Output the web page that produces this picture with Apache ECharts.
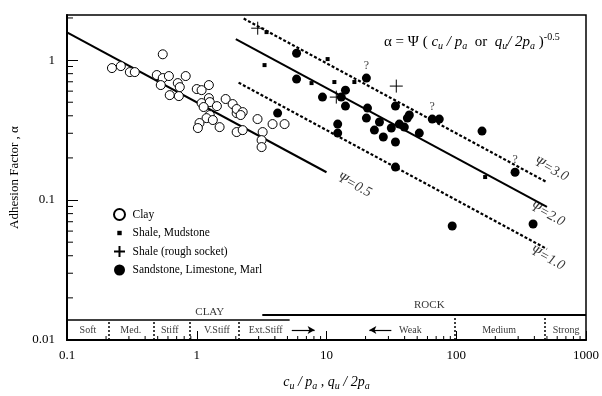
<!DOCTYPE html>
<html>
<head>
<meta charset="utf-8">
<script src="https://cdn.jsdelivr.net/npm/echarts@6/dist/echarts.min.js"></script>
<style>
html,body{margin:0;padding:0;background:#fff}
#main{width:602px;height:396px}
</style>
</head>
<body>
<div id="main"></div>
<script>
// [cu/pa, alpha]
var clay = [[0.222,0.877],[0.26,0.906],[0.305,0.821],[0.333,0.821],[0.547,1.10],[0.492,0.782],[0.547,0.744],
  [0.61,0.769],[0.528,0.663],[0.714,0.685],[0.74,0.641],[0.822,0.769],[0.619,0.562],[0.728,0.553],[1.0,0.621],
  [1.09,0.61],[1.24,0.663],[1.24,0.535],[1.09,0.493],[1.26,0.501],[1.43,0.469],[1.67,0.527],[1.89,0.485],
  [1.13,0.462],[1.26,0.405],[1.19,0.385],[1.05,0.355],[1.02,0.327],[1.33,0.373],[1.5,0.332],[2.03,0.418],
  [2.03,0.447],[2.26,0.425],[2.18,0.405],[2.03,0.306],[2.26,0.316],[2.94,0.379],[3.22,0.306],[3.16,0.268],
  [3.16,0.239],[3.84,0.349],[4.75,0.349]]
var shale = [[3.45,1.585],[3.33,0.921],[10.2,1.017],[7.67,0.685],[11.5,0.697],[16.4,0.697],[167,0.146]]
var roughSocket = [[2.95,1.69],[34.5,0.652],[11.9,0.544]]
var sandstone = [[5.88,1.12],[5.88,0.732],[4.20,0.418],[9.31,0.544],[14.0,0.610],[13.0,0.544],[14.0,0.469],
  [20.3,0.744],[20.7,0.454],[20.3,0.385],[25.6,0.361],[23.4,0.316],[27.4,0.282],[34.0,0.260],[34.0,0.469],
  [31.6,0.327],[36.4,0.349],[39.8,0.332],[42.0,0.385],[43.5,0.405],[51.9,0.301],[65.3,0.379],[74.0,0.379],
  [12.2,0.349],[12.2,0.301],[34.0,0.172],[158,0.311],[284,0.158],[93.1,0.0652],[391,0.0674]]
var queried = [[20.3,0.744],[65.3,0.379],[284,0.158]]

var psi05 = [[0.1,1.58],[10,0.158]]
var psi20 = [[2,1.414],[500,0.0894]]
var psi30 = [[2.3,1.98],[500,0.134]]
var psi10 = [[2.1,0.69],[500,0.0447]]
var psiLabels = [['Ψ=0.5',16.4,0.128],['Ψ=3.0',540,0.166],['Ψ=2.0',505,0.0794],['Ψ=1.0',505,0.0385]]

var clayBounds = [0.21,0.47,0.88,2.1]
var rockBounds = [97,480]
var stripLabels = [['Soft',0.145],['Med.',0.31],['Stiff',0.62],['V.Stiff',1.43],['Ext.Stiff',3.4],
  ['Weak',44.3],['Medium',214],['Strong',702]]

var xMinor = [0.2,0.3,0.4,0.5,0.6,0.7,0.8,0.9,2,3,4,5,6,7,8,9,20,30,40,50,60,70,80,90,200,300,400,500,600,700,800,900]
var yMinor = [0.02,0.03,0.04,0.05,0.06,0.07,0.08,0.09,0.2,0.3,0.4,0.5,0.6,0.7,0.8,0.9,2]

var serif = 'Liberation Serif'
var chart = echarts.init(document.getElementById('main'))

var stripTop = 0.0139, rockTop = 0.0151

function tickSeries(vals, onX){
  return {
    type:'custom', silent:true, z:5,
    data: vals.map(function(v){return [v]}),
    renderItem:function(params, api){
      var v = api.value(0)
      var p = onX ? api.coord([v,0.01]) : api.coord([0.1,v])
      return {type:'line', shape: onX ? {x1:p[0],y1:p[1],x2:p[0],y2:p[1]-4} : {x1:p[0],y1:p[1],x2:p[0]+6,y2:p[1]},
        style:{stroke:'#000', lineWidth:1}}
    }
  }
}

function psiLine(d, dashed, w){
  return {type:'line', data:d, symbol:'none', silent:true, z:3,
    lineStyle:{color:'#000', width:w, type: dashed ? [3,2] : 'solid'}}
}

var markSegs = []
clayBounds.concat(rockBounds).forEach(function(b){
  markSegs.push([{coord:[b,0.01]},{coord:[b, b>50 ? rockTop : stripTop]}])
})

var dividerStyle = {color:'#000', width:1.5, type:[2,2]}

var option = {
  animation:false,
  textStyle:{fontFamily:serif},
  grid:{left:67, right:14, top:15, bottom:56, show:true, borderColor:'#000', borderWidth:1.5},
  xAxis:{type:'log', logBase:10, min:0.1, max:1000,
    axisLine:{lineStyle:{color:'#000', width:2}},
    axisTick:{inside:true, length:9, lineStyle:{color:'#000'}},
    splitLine:{show:false},
    axisLabel:{color:'#000', fontSize:13, fontFamily:serif, margin:9,
      formatter:function(v){return String(+v.toPrecision(3))}},
    name:'{i|c}{s|u}{i| / p}{s|a}{i| , q}{s|u}{i| / 2p}{s|a}',
    nameLocation:'middle', nameGap:33,
    nameTextStyle:{rich:{
      i:{fontFamily:serif, fontStyle:'italic', fontSize:14, color:'#000'},
      s:{fontFamily:serif, fontStyle:'italic', fontSize:10, color:'#000', padding:[8,0,0,0]}
    }}
  },
  yAxis:{type:'log', logBase:10, min:0.01, max:2.1,
    axisLine:{lineStyle:{color:'#000', width:2}},
    axisTick:{inside:true, length:11, lineStyle:{color:'#000'}},
    splitLine:{show:false},
    axisLabel:{color:'#000', fontSize:13, fontFamily:serif, margin:12, showMaxLabel:false,
      formatter:function(v){return String(+v.toPrecision(3))}},
    name:'Adhesion Factor , α', nameLocation:'middle', nameGap:40,
    nameTextStyle:{color:'#000', fontSize:13, fontFamily:serif}
  },
  legend:{orient:'vertical', left:108, top:203, itemGap:6, itemWidth:16, itemHeight:11,
    textStyle:{color:'#000', fontSize:11.5, fontFamily:serif},
    data:[
      {name:'Clay'},
      {name:'Shale, Mudstone', icon:'path://M0,0M10,10M3,3h4v4h-4z'},
      {name:'Shale (rough socket)'},
      {name:'Sandstone, Limestone, Marl'}
    ]},
  series:[
    psiLine(psi05,false,2), psiLine(psi20,false,2), psiLine(psi30,true,2.2), psiLine(psi10,true,2.2),
    {name:'Clay', type:'scatter', data:clay, symbol:'circle', symbolSize:9, z:4,
      itemStyle:{color:'#fff', borderColor:'#000', borderWidth:1, opacity:1}},
    {name:'Shale, Mudstone', type:'scatter', data:shale, symbol:'rect', symbolSize:4, z:4,
      itemStyle:{color:'#000', opacity:1}},
    {name:'Shale (rough socket)', type:'scatter', data:roughSocket, symbol:'path://M0,6L12,6M6,0L6,12',
      symbolSize:13, z:4, itemStyle:{color:'rgba(0,0,0,0)', borderColor:'#000', borderWidth:1, opacity:1}},
    {name:'Sandstone, Limestone, Marl', type:'scatter', data:sandstone, symbol:'circle', symbolSize:9, z:4,
      itemStyle:{color:'#000', opacity:1}},
    {type:'scatter', data:queried, symbolSize:0, silent:true,
      label:{show:true, formatter:'?', position:'top', distance:6, color:'#000', fontSize:12, fontFamily:serif}},
    // strip labels, dividers and section lines
    {type:'scatter', silent:true, symbolSize:0,
      data:stripLabels.map(function(s){return {value:[s[1],0.0118], name:s[0]}}),
      label:{show:true, position:'inside', formatter:'{b}', color:'#000', fontSize:10, fontFamily:serif},
      markLine:{silent:true, symbol:'none', label:{show:false}, lineStyle:dividerStyle, data:markSegs.concat([
        [{coord:[0.1,stripTop], lineStyle:{type:'solid', width:1.5}},{coord:[5.2,stripTop]}],
        [{coord:[3.2,rockTop], lineStyle:{type:'solid', width:2}},{coord:[1000,rockTop]}]
      ])}
    },
    {type:'scatter', silent:true, symbolSize:0,
      data:[{value:[1.26,0.0159], name:'CLAY'},{value:[62,0.0178], name:'ROCK'}],
      label:{show:true, position:'inside', formatter:'{b}', color:'#000', fontSize:11, fontFamily:serif},
      markLine:{silent:true, label:{show:false}, symbol:['none','arrow'], symbolSize:[6,7],
        lineStyle:{color:'#000', width:1.2, type:'solid'},
        data:[
          [{coord:[5.4,0.0118]},{coord:[8.1,0.0118]}],
          [{coord:[31.6,0.0118]},{coord:[21.4,0.0118]}]
        ]}
    },
    // psi labels
    {type:'scatter', silent:true, symbolSize:0,
      data:psiLabels.map(function(p){return {value:[p[1],p[2]], name:p[0]}}),
      label:{show:true, position:'inside', formatter:'{b}', rotate:-28, color:'#000', fontSize:14,
        fontStyle:'italic', fontFamily:serif}
    },
    tickSeries(xMinor,true), tickSeries(yMinor,false)
  ],
  graphic:[{type:'text', left:384, top:32, silent:true,
    style:{text:'{n|α = Ψ ( }{i|c}{s|u}{i| / p}{s|a}{n|  or  }{i|q}{s|u}{i|/ 2p}{s|a}{n| )}{p|-0.5}',
      rich:{
        n:{fontFamily:serif, fontSize:15, fill:'#000'},
        i:{fontFamily:serif, fontSize:15, fontStyle:'italic', fill:'#000'},
        s:{fontFamily:serif, fontSize:10, fontStyle:'italic', fill:'#000', padding:[8,0,0,0]},
        p:{fontFamily:serif, fontSize:10, fill:'#000', padding:[0,0,10,0]}
      }}}]
}
chart.setOption(option)
</script>
</body>
</html>
